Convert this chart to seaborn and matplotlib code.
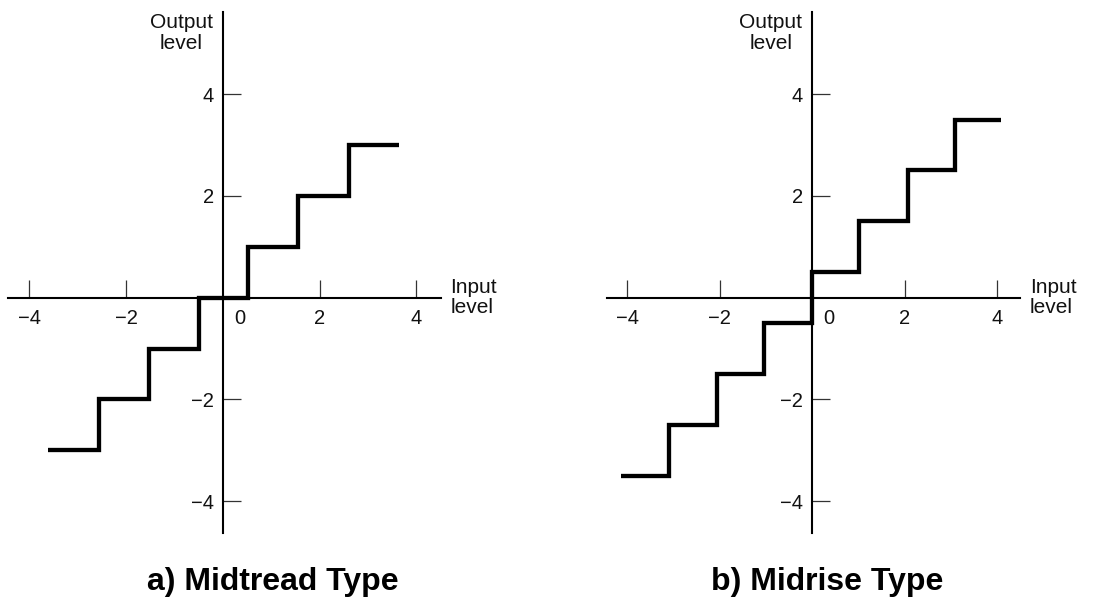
import matplotlib
matplotlib.use("Agg")
import matplotlib.pyplot as plt
import seaborn as sns

# Quantizer transfer characteristics
midtread_edges = [-3.6, -2.55, -1.52, -0.5, 0.52, 1.56, 2.6, 3.63]
midtread_levels = [-3, -2, -1, 0, 1, 2, 3]

midrise_edges = [-4.13, -3.1, -2.06, -1.04, 0.0, 1.01, 2.06, 3.08, 4.09]
midrise_levels = [-3.5, -2.5, -1.5, -0.5, 0.5, 1.5, 2.5, 3.5]

tick_values = [-4, -2, 2, 4]
titles = ["a) Midtread Type", "b) Midrise Type"]

sns.set_style("white")
plt.rcParams['font.family'] = ['Liberation Sans', 'DejaVu Sans']
plt.rcParams['text.color'] = 'black'

fig = plt.figure(figsize=(11.07, 6.0), dpi=100)

# axes placed so the drawn axis lines match the reference picture
ax_a = fig.add_axes([0.0075, 0.1112, 0.3906, 0.8693])
ax_b = fig.add_axes([0.548, 0.1112, 0.3734, 0.8693])

panels = [
    (ax_a, midtread_edges, midtread_levels, (-4.43, 4.50), 273 / 1107),
    (ax_b, midrise_edges, midrise_levels, (-4.44, 4.49), 827 / 1107),
]

for (ax, edges, levels, xlim, title_x), title in zip(panels, titles):
    ys = levels + [levels[-1]]
    sns.lineplot(x=edges, y=ys, drawstyle='steps-post', estimator=None, sort=False,
                 color='black', linewidth=3.1, solid_capstyle='butt',
                 solid_joinstyle='miter', ax=ax)

    ax.set_xlim(*xlim)
    ax.set_ylim(-4.63, 5.62)
    ax.patch.set_alpha(0)

    # axes crossing at the origin
    for side in ['right', 'top']:
        ax.spines[side].set_visible(False)
    ax.spines['left'].set_position('zero')
    ax.spines['bottom'].set_position('zero')
    for side in ['left', 'bottom']:
        ax.spines[side].set_color('black')
        ax.spines[side].set_linewidth(1.5)
        ax.spines[side].set_zorder(1)

    ax.set_xticks(tick_values)
    ax.set_yticks(tick_values)
    ax.tick_params(axis='both', direction='in', length=13, width=0.9,
                   color='#333333', labelsize=14.5, labelcolor='#111111',
                   bottom=True, left=True, top=False, right=False)
    ax.tick_params(axis='x', pad=8)
    ax.tick_params(axis='y', pad=6.5)

    ax.annotate('0', xy=(0, 0), xytext=(12, -8.5), textcoords='offset points',
                ha='center', va='top', fontsize=14.5, color='#111111')
    ax.annotate('Output\nlevel', xy=(0, 5.2), xytext=(-7, 0), textcoords='offset points',
                ha='right', va='center', multialignment='center', fontsize=15,
                linespacing=1.1, color='#111111')
    ax.annotate('Input\nlevel', xy=(xlim[1], 0), xytext=(7, 0), textcoords='offset points',
                ha='left', va='center', multialignment='left', fontsize=15,
                linespacing=1.1, color='#111111')

    fig.text(title_x, 1 - 582 / 600, title, ha='center', va='center',
             fontsize=23, fontweight='bold', color='black')

fig.savefig("out.png", dpi=100)
